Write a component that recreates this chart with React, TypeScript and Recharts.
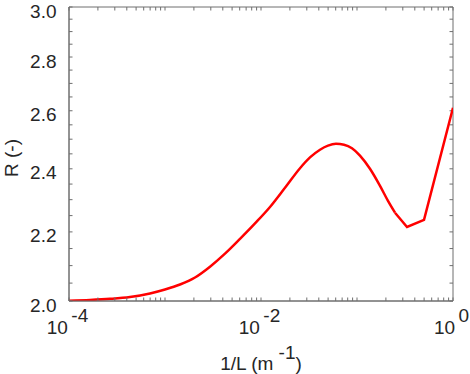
import { LineChart, Line, XAxis, YAxis, ReferenceArea, ReferenceLine } from 'recharts'

// smooth part of the curve (1/L in m^-1, R in -)
const invL = [1e-4, 1.655e-4, 2.674e-4, 4.318e-4, 6.978e-4, 1e-3, 1.433e-3, 2.054e-3, 2.943e-3, 4.217e-3, 6.042e-3, 8.66e-3, 0.01241, 0.01778, 0.02548, 0.03238, 0.04117, 0.04988, 0.06042, 0.07321, 0.08867, 0.1074, 0.1365, 0.1737, 0.2103, 0.2488]
const ratio = [2.001, 2.003, 2.006, 2.011, 2.021, 2.032, 2.046, 2.066, 2.097, 2.135, 2.179, 2.226, 2.277, 2.338, 2.402, 2.438, 2.464, 2.478, 2.484, 2.481, 2.469, 2.444, 2.4, 2.344, 2.296, 2.259]
// coarse tail, drawn with straight segments
const tailInvL = [0.2488, 0.332, 0.499, 1.0]
const tailRatio = [2.259, 2.215, 2.237, 2.611]

const xDecades = [1e-4, 1e-3, 1e-2, 1e-1, 1]
const xMantissa = [2, 3, 4, 5, 6, 7, 8, 9]
const xLabelled = [1e-4, 1e-2, 1]
const xExponents = ['-4', '-2', '0']

const yTicks = [2.0, 2.05, 2.1, 2.15, 2.2, 2.25, 2.3, 2.35, 2.4, 2.45, 2.5, 2.55, 2.6, 2.65, 2.7, 2.75, 2.8, 2.85, 2.9, 2.95, 3.0]
const yLabelled = [2.0, 2.2, 2.4, 2.6, 2.8, 3.0]

const X_MIN = 1e-4
const X_MAX = 1
const Y_MIN = 2
const Y_MAX = 3

const W = 470
const H = 374
const M = { top: 7, right: 17, bottom: 0, left: 0 }
const Y_W = 69
const X_H = 73
const PLOT_W = W - M.left - M.right - Y_W
const PLOT_H = H - M.top - M.bottom - X_H

const AXIS = '#6e6e6e'
const TEXT = '#262626'
const FONT = 19
const TICK_LEN = 3.5

// inward tick length on the top / right edges, expressed in log-axis units
const topTickEnd = Y_MAX * Math.pow(Y_MIN / Y_MAX, TICK_LEN / PLOT_H)
const rightTickEnd = X_MAX * Math.pow(X_MIN / X_MAX, TICK_LEN / PLOT_W)

const mainData = invL.map((x, i) => ({ x, y: ratio[i] }))
const tailData = tailInvL.map((x, i) => ({ x, y: tailRatio[i] }))

const xTicks: number[] = []
xDecades.forEach((d, i) => {
  xTicks.push(d)
  if (i < xDecades.length - 1) xMantissa.forEach((m) => xTicks.push(m * d))
})

const near = (a: number, b: number) => Math.abs(a / b - 1) < 1e-6

function XTick(props: any) {
  const { x, y, payload } = props
  const li = xLabelled.findIndex((d) => near(payload.value, d))
  if (li < 0) return <g />
  return (
    <text x={x - 1.5} y={y + 33} textAnchor="middle" fill={TEXT} fontSize={FONT}>
      <tspan>10</tspan>
      <tspan dx={3.5} dy={-12}>{xExponents[li]}</tspan>
    </text>
  )
}

function YTick(props: any) {
  const { x, y, payload } = props
  const v = payload.value
  if (!yLabelled.some((d) => near(v, d))) return <g />
  return (
    <text x={x - 12.5} y={y + 10.5} textAnchor="end" fill={TEXT} fontSize={FONT}>
      {v.toFixed(1)}
    </text>
  )
}

function XLabel(props: any) {
  const vb = props.viewBox
  return (
    <text x={vb.x + vb.width / 2} y={vb.y + 68.5} textAnchor="middle" fill={TEXT} fontSize={FONT}>
      <tspan>1/L (m </tspan>
      <tspan dy={-11}>-1</tspan>
      <tspan dy={11}>)</tspan>
    </text>
  )
}

function YLabel() {
  const cx = 17.5
  const cy = 158
  return (
    <text x={cx} y={cy} transform={`rotate(-90, ${cx}, ${cy})`} textAnchor="middle" fill={TEXT} fontSize={FONT}>
      R (-)
    </text>
  )
}

export default function App() {
  return (
    <div
      style={{
        position: 'absolute',
        left: 0,
        top: 0,
        width: W,
        height: H,
        background: '#fff',
        fontFamily: '"Liberation Sans", Arial, sans-serif',
      }}
    >
      <LineChart width={W} height={H} margin={M}>
        <XAxis
          type="number"
          dataKey="x"
          scale="log"
          domain={[X_MIN, X_MAX]}
          allowDataOverflow
          ticks={xTicks}
          interval={0}
          tickSize={-TICK_LEN}
          tickMargin={TICK_LEN}
          stroke={AXIS}
          tick={<XTick />}
          height={X_H}
          label={<XLabel />}
        />
        <YAxis
          type="number"
          dataKey="y"
          scale="log"
          domain={[Y_MIN, Y_MAX]}
          allowDataOverflow
          ticks={yTicks}
          interval={0}
          tickSize={-TICK_LEN}
          tickMargin={TICK_LEN}
          stroke={AXIS}
          tick={<YTick />}
          width={Y_W}
          label={<YLabel />}
        />
        <ReferenceArea x1={X_MIN} x2={X_MAX} y1={Y_MIN} y2={Y_MAX} fill="none" stroke={AXIS} strokeWidth={1} />
        {xTicks.map((v) => (
          <ReferenceLine
            key={`t${v}`}
            segment={[
              { x: v, y: Y_MAX },
              { x: v, y: topTickEnd },
            ]}
            stroke={AXIS}
            ifOverflow="visible"
          />
        ))}
        {yTicks.map((v) => (
          <ReferenceLine
            key={`r${v}`}
            segment={[
              { x: X_MAX, y: v },
              { x: rightTickEnd, y: v },
            ]}
            stroke={AXIS}
            ifOverflow="visible"
          />
        ))}
        <Line
          data={mainData}
          dataKey="y"
          type="monotone"
          stroke="#ff0000"
          strokeWidth={2.5}
          dot={false}
          isAnimationActive={false}
        />
        <Line
          data={tailData}
          dataKey="y"
          type="linear"
          stroke="#ff0000"
          strokeWidth={2.5}
          dot={false}
          isAnimationActive={false}
        />
      </LineChart>
    </div>
  )
}
